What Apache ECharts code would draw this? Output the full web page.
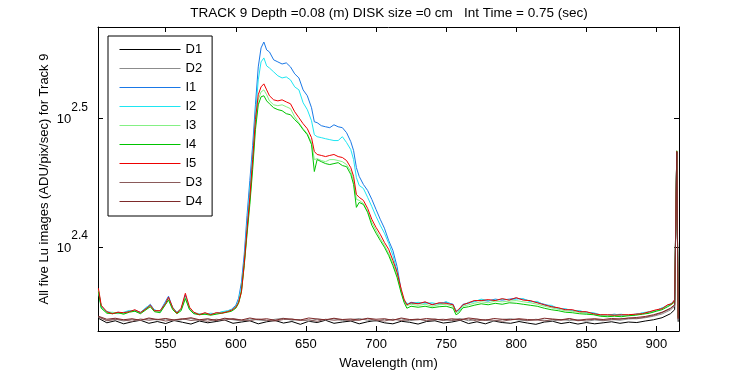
<!DOCTYPE html>
<html>
<head>
<meta charset="utf-8">
<title>TRACK 9 Lu spectra</title>
<script src="https://cdn.jsdelivr.net/npm/echarts@6.0.0/dist/echarts.min.js"></script>
<style>
  html, body { margin: 0; padding: 0; background: #fff; }
  #chart { width: 750px; height: 375px; }
</style>
</head>
<body>
<div id="chart"></div>
<script>
  // wavelength grid for the five light images (nm)
  const nm = [
    502, 504, 508, 512, 516, 520, 524, 528, 532, 536,
    539, 542, 546, 550, 552, 555, 558, 561, 564, 567,
    570, 574, 578, 582, 586, 590, 594, 597, 600, 602,
    604, 606, 608, 610, 612, 614, 616, 618, 620, 622,
    624, 627, 630, 633, 636, 639, 642, 645, 648, 651,
    654, 656, 658, 661, 664, 667, 670, 673, 676, 679,
    682, 684, 686, 688, 691, 694, 697, 700, 703, 706,
    709, 712, 715, 718, 720, 722, 725, 730, 735, 740,
    745, 750, 755, 757, 759, 762, 766, 770, 775, 780,
    785, 790, 795, 800, 805, 810, 815, 820, 825, 830,
    835, 840, 845, 850, 855, 860, 865, 870, 875, 880,
    885, 890, 895, 900, 904, 908, 911, 913, 914.5, 915.5
  ];

  const i1 = [
    232.2, 226.0, 223.6, 223.2, 223.6, 223.2, 224.0, 224.4, 223.6, 225.2,
    226.8, 224.4, 224.0, 228.1, 230.1, 225.2, 223.6, 224.8, 230.5, 224.8,
    223.2, 222.8, 223.2, 222.8, 223.2, 223.6, 224.0, 224.8, 226.4, 229.3,
    235.9, 248.0, 265.9, 283.1, 301.4, 324.2, 347.0, 359.0, 362.8, 357.7,
    356.4, 351.4, 350.1, 348.8, 349.5, 347.0, 342.7, 340.2, 333.0, 329.5,
    322.5, 314.5, 314.0, 312.3, 311.7, 311.2, 312.8, 311.7, 311.2, 308.4,
    303.5, 298.7, 289.7, 285.2, 281.1, 278.1, 273.7, 268.8, 264.1, 259.9,
    254.3, 249.8, 242.7, 232.2, 228.1, 226.8, 227.6, 227.2, 227.6, 226.8,
    227.2, 227.6, 226.8, 224.0, 224.4, 226.8, 227.2, 228.1, 228.5, 228.1,
    228.9, 228.5, 228.9, 229.3, 228.9, 228.1, 227.6, 226.8, 226.0, 225.2,
    224.8, 224.4, 224.0, 223.6, 223.2, 222.4, 222.4, 222.8, 222.4, 222.4,
    222.8, 223.2, 223.6, 224.4, 225.2, 226.4, 227.2, 228.5, 298.2, 221.6
  ];

  const i2 = [
    232.6, 225.6, 223.9, 223.4, 223.0, 223.6, 224.3, 224.0, 223.2, 225.6,
    226.4, 224.6, 223.6, 227.6, 229.3, 225.6, 223.4, 225.0, 229.7, 225.2,
    223.4, 223.0, 222.8, 223.2, 223.0, 223.8, 224.2, 224.6, 226.0, 228.3,
    234.0, 244.9, 261.7, 278.6, 296.6, 318.5, 339.0, 350.1, 352.6, 347.6,
    346.3, 343.9, 341.5, 340.2, 340.8, 339.0, 334.8, 333.0, 325.4, 321.4,
    315.1, 307.3, 306.2, 305.7, 305.1, 304.6, 304.1, 304.1, 306.2, 303.0,
    299.2, 293.9, 284.6, 280.6, 279.1, 274.7, 270.2, 265.5, 261.3, 257.6,
    253.0, 247.6, 240.6, 231.8, 228.5, 227.2, 227.0, 227.6, 227.2, 227.4,
    226.8, 227.9, 226.4, 224.4, 224.0, 226.4, 227.6, 227.8, 228.9, 228.3,
    228.5, 228.9, 228.7, 228.9, 229.1, 227.8, 228.0, 226.4, 226.4, 225.0,
    225.0, 224.2, 224.3, 223.4, 223.4, 222.6, 222.2, 222.6, 222.8, 222.2,
    222.6, 223.4, 223.8, 224.2, 225.4, 226.0, 227.4, 228.3, 298.0, 221.8
  ];

  const i3 = [
    232.8, 225.8, 223.4, 223.6, 223.2, 223.0, 223.8, 224.2, 223.4, 224.8,
    226.0, 224.0, 223.8, 227.0, 228.9, 225.0, 223.4, 224.6, 229.7, 225.0,
    223.4, 222.8, 223.0, 222.6, 223.0, 223.4, 223.8, 224.4, 225.6, 227.8,
    232.6, 243.6, 258.0, 272.7, 290.8, 312.3, 327.1, 331.8, 333.0, 330.1,
    326.5, 324.2, 323.7, 324.2, 323.1, 322.0, 317.3, 313.9, 310.6, 307.9,
    303.0, 293.9, 294.4, 293.4, 292.8, 293.9, 293.9, 293.4, 292.8, 291.3,
    287.7, 283.1, 273.7, 273.2, 271.7, 267.8, 262.7, 258.9, 255.3, 252.1,
    248.5, 244.0, 238.9, 232.2, 228.1, 226.2, 226.8, 226.4, 226.8, 226.0,
    226.6, 226.8, 226.0, 223.4, 223.8, 226.0, 226.6, 227.2, 227.8, 227.4,
    228.1, 227.8, 228.1, 228.3, 227.8, 227.4, 226.8, 226.0, 225.4, 224.8,
    224.2, 224.0, 223.6, 223.2, 222.8, 222.2, 222.2, 222.4, 222.0, 222.4,
    222.6, 223.0, 223.4, 224.2, 225.0, 226.2, 227.0, 228.1, 298.0, 221.6
  ];

  const i4 = [
    232.0, 225.2, 223.2, 223.0, 223.4, 222.8, 223.6, 224.0, 223.0, 224.6,
    225.8, 223.8, 223.4, 226.8, 228.5, 224.6, 223.0, 224.2, 229.1, 224.6,
    223.0, 222.6, 222.8, 222.4, 222.8, 223.2, 223.6, 224.0, 225.2, 227.2,
    231.8, 243.1, 257.1, 271.2, 288.7, 310.1, 324.2, 328.9, 329.5, 326.5,
    324.8, 322.5, 321.4, 320.8, 319.1, 318.5, 315.7, 313.4, 310.1, 307.3,
    301.9, 287.7, 293.9, 292.8, 291.8, 291.3, 291.8, 292.3, 290.8, 290.2,
    286.2, 281.1, 269.8, 272.2, 271.2, 267.4, 261.3, 257.6, 254.3, 251.2,
    247.6, 243.1, 238.0, 231.3, 227.6, 225.2, 226.0, 225.6, 226.0, 225.4,
    225.8, 226.0, 225.2, 222.6, 223.2, 225.4, 225.8, 226.4, 227.0, 226.6,
    227.2, 226.8, 227.4, 227.2, 226.8, 226.4, 226.0, 225.2, 224.6, 224.2,
    223.6, 223.4, 223.0, 222.8, 222.6, 222.0, 221.8, 222.0, 221.8, 222.2,
    222.4, 222.8, 223.2, 224.0, 224.6, 225.8, 226.8, 227.8, 298.6, 221.6
  ];

  const i5 = [
    233.4, 226.4, 223.8, 223.0, 223.6, 223.4, 223.8, 224.6, 223.4, 225.0,
    226.4, 224.2, 224.2, 227.2, 229.7, 225.4, 223.2, 225.2, 231.3, 225.6,
    223.6, 222.6, 223.4, 222.6, 223.4, 223.2, 223.8, 224.4, 225.6, 227.6,
    232.0, 244.0, 259.4, 274.7, 293.9, 315.7, 330.1, 334.8, 336.6, 333.0,
    329.5, 327.1, 326.5, 327.1, 325.9, 324.8, 320.2, 316.8, 313.4, 310.6,
    305.7, 298.2, 296.6, 296.1, 295.5, 296.1, 296.6, 295.5, 295.0, 293.4,
    289.7, 285.2, 276.1, 274.7, 273.2, 269.3, 264.1, 260.3, 257.1, 253.4,
    250.3, 245.4, 240.2, 233.0, 228.9, 226.6, 227.4, 227.0, 227.8, 226.6,
    227.4, 227.2, 226.6, 223.8, 224.8, 226.6, 227.4, 228.3, 228.3, 228.7,
    228.3, 229.1, 228.5, 229.5, 228.5, 228.3, 227.4, 226.6, 225.8, 225.4,
    224.6, 224.6, 223.8, 223.8, 223.0, 222.6, 222.6, 222.4, 222.6, 222.6,
    222.8, 223.0, 223.8, 224.6, 225.0, 226.6, 227.0, 228.7, 298.2, 221.4
  ];

  // wavelength grid for the dark frames (nm)
  const darkNm = [
    502, 508, 514, 520, 526, 532, 538, 544, 550, 556,
    562, 568, 574, 580, 586, 592, 598, 604, 610, 616,
    622, 628, 634, 640, 646, 652, 658, 664, 670, 676,
    682, 688, 694, 700, 706, 712, 718, 724, 730, 736,
    742, 748, 754, 760, 766, 772, 778, 784, 790, 796,
    802, 808, 814, 820, 826, 832, 838, 844, 850, 856,
    862, 868, 874, 880, 886, 892, 898, 904, 910, 913,
    914.5, 915.5
  ];

  const d1 = [
    221.2, 219.4, 220.2, 219.0, 219.8, 220.4, 219.2, 219.9, 219.1, 220.3,
    219.6, 218.9, 220.1, 219.4, 219.9, 220.5, 219.2, 219.7, 220.2, 219.0,
    219.8, 220.3, 219.3, 219.9, 218.8, 220.0, 219.5, 220.4, 219.2, 219.7,
    220.1, 219.0, 219.8, 220.3, 219.4, 219.0, 220.0, 219.6, 218.9, 219.9,
    220.2, 219.3, 219.7, 220.4, 219.1, 219.8, 219.0, 220.1, 219.5, 219.2,
    219.9, 219.3, 218.8, 219.7, 220.0, 219.1, 219.6, 218.9, 219.5, 219.0,
    219.4, 219.8, 219.2, 219.7, 219.5, 220.1, 220.6, 221.4, 223.0, 224.6,
    298.0, 219.8
  ];

  const d2 = [
    221.6, 220.4, 220.9, 220.1, 220.8, 220.3, 221.0, 220.5, 220.9, 220.2,
    220.7, 221.1, 220.3, 220.8, 220.4, 221.0, 220.6, 220.1, 220.9, 220.5,
    220.2, 220.8, 221.2, 220.4, 220.7, 220.0, 220.9, 220.5, 221.0, 220.3,
    220.6, 221.1, 220.4, 220.0, 220.8, 220.5, 221.0, 220.2, 220.7, 220.4,
    220.9, 220.3, 220.6, 221.1, 220.2, 220.8, 220.4, 220.0, 220.7, 221.0,
    220.5, 220.2, 220.8, 220.4, 220.1, 220.7, 220.3, 220.6, 220.0, 220.5,
    220.2, 220.7, 220.4, 220.9, 221.1, 221.4, 222.0, 222.9, 224.5, 226.0,
    298.0, 220.6
  ];

  const d3 = [
    221.8, 220.2, 220.7, 220.5, 220.0, 220.9, 220.4, 220.8, 220.1, 220.6,
    221.0, 220.3, 220.6, 220.0, 220.8, 220.4, 221.1, 220.5, 220.2, 220.9,
    220.4, 220.1, 220.7, 220.9, 220.3, 220.6, 220.0, 220.8, 220.4, 220.7,
    220.2, 220.5, 221.0, 220.4, 220.1, 220.8, 220.3, 220.6, 220.9, 220.2,
    220.6, 220.8, 220.3, 220.5, 220.9, 220.1, 220.7, 220.4, 220.0, 220.6,
    220.8, 220.3, 220.6, 220.1, 220.7, 220.4, 220.9, 220.2, 220.5, 220.8,
    220.4, 220.6, 220.9, 221.2, 221.0, 221.6, 222.3, 223.4, 225.0, 226.4,
    298.0, 220.8
  ];

  const d4 = [
    222.0, 220.8, 221.2, 220.6, 221.0, 220.4, 221.3, 220.7, 221.1, 220.5,
    220.9, 221.4, 220.6, 221.0, 220.3, 221.2, 220.8, 220.5, 221.3, 220.7,
    221.0, 220.4, 221.1, 220.8, 220.5, 221.3, 220.9, 220.6, 221.2, 220.7,
    220.9, 220.5, 221.2, 220.8, 221.0, 220.4, 221.3, 220.7, 220.6, 221.1,
    220.8, 220.5, 221.0, 220.6, 221.3, 220.9, 220.4, 221.1, 220.8, 220.6,
    221.0, 220.7, 220.5, 221.2, 220.9, 220.6, 221.1, 220.4, 220.8, 221.0,
    220.7, 221.1, 220.9, 221.3, 221.5, 221.9, 222.6, 223.6, 225.2, 226.6,
    298.0, 221.0
  ];

  const xTicks = [550, 600, 650, 700, 750, 800, 850, 900];
  const yTicks = [251.19, 316.23];
  const yTickExp = ['2.4', '2.5'];

  const FONT = '"Liberation Sans", Arial, Helvetica, sans-serif';

  function pairs(xs, ys) {
    return xs.map((x, i) => [x, ys[i]]);
  }

  // draw order matches the legend
  const lines = [
    { name: 'D1', color: '#000000', x: darkNm, y: d1 },
    { name: 'D2', color: '#8c8c8c', x: darkNm, y: d2 },
    { name: 'I1', color: '#1a78e6', x: nm, y: i1 },
    { name: 'I2', color: '#1ee6f2', x: nm, y: i2 },
    { name: 'I3', color: '#84f084', x: nm, y: i3 },
    { name: 'I4', color: '#00c400', x: nm, y: i4 },
    { name: 'I5', color: '#ee0000', x: nm, y: i5 },
    { name: 'D3', color: '#8a5a5a', x: darkNm, y: d3 },
    { name: 'D4', color: '#7e2a2a', x: darkNm, y: d4 },
  ];

  const xMin = 501.7, xMax = 916.1;
  const yMin = 216.2, yMax = 372.7;

  const tickStyle = { show: true, inside: true, length: 5, lineStyle: { color: '#000', width: 1 } };
  const lineStyle = { show: true, lineStyle: { color: '#000', width: 1 } };

  const option = {
    animation: false,
    backgroundColor: '#fff',
    textStyle: { fontFamily: FONT },
    grid: { left: 98, right: 71, top: 27, bottom: 43, containLabel: false },
    graphic: [
      {
        type: 'text',
        x: 389,
        y: 13,
        style: {
          text: 'TRACK 9 Depth =0.08 (m) DISK size =0 cm   Int Time = 0.75 (sec)',
          font: '13.5px ' + FONT,
          fill: '#000',
          textAlign: 'center',
          textVerticalAlign: 'middle',
        },
      },
    ],
    legend: {
      orient: 'vertical',
      left: 108,
      top: 36,
      itemWidth: 61,
      itemHeight: 13,
      itemGap: 4,
      padding: [6, 10, 7, 11],
      borderColor: '#000',
      borderWidth: 1,
      borderRadius: 0,
      backgroundColor: '#fff',
      selectedMode: false,
      itemStyle: { opacity: 0 },
      lineStyle: { width: 1 },
      textStyle: { color: '#000', fontSize: 13, lineHeight: 15, fontFamily: FONT },
      data: lines.map((l) => l.name),
    },
    xAxis: [
      {
        type: 'value',
        min: xMin,
        max: xMax,
        position: 'bottom',
        axisLine: lineStyle,
        axisTick: Object.assign({ customValues: xTicks }, tickStyle),
        axisLabel: { customValues: xTicks, color: '#000', fontSize: 13, margin: 7 },
        splitLine: { show: false },
        name: 'Wavelength (nm)',
        nameLocation: 'middle',
        nameGap: 26,
        nameMoveOverlap: false,
        nameTextStyle: { color: '#000', fontSize: 13 },
      },
      {
        type: 'value',
        min: xMin,
        max: xMax,
        position: 'top',
        axisLine: lineStyle,
        axisTick: Object.assign({ customValues: xTicks }, tickStyle),
        axisLabel: { show: false },
        splitLine: { show: false },
      },
    ],
    yAxis: [
      {
        type: 'log',
        logBase: 10,
        min: yMin,
        max: yMax,
        position: 'left',
        axisLine: lineStyle,
        axisTick: Object.assign({ customValues: yTicks }, tickStyle),
        axisLabel: {
          customValues: yTicks,
          margin: 10,
          color: '#000',
          formatter(value) {
            const k = yTicks.findIndex((v) => Math.abs(v - value) < 1);
            return '{b|10}{s|' + yTickExp[k < 0 ? 0 : k] + '}';
          },
          rich: {
            b: { fontSize: 13, color: '#000', padding: [12, 0, 10, 0], fontFamily: FONT },
            s: { fontSize: 12, color: '#000', verticalAlign: 'top', fontFamily: FONT },
          },
        },
        splitLine: { show: false },
        name: 'All five Lu images (ADU/pix/sec) for Track 9',
        nameLocation: 'middle',
        nameGap: 47,
        nameMoveOverlap: false,
        nameTextStyle: { color: '#000', fontSize: 13 },
      },
      {
        type: 'log',
        logBase: 10,
        min: yMin,
        max: yMax,
        position: 'right',
        axisLine: lineStyle,
        axisTick: Object.assign({ customValues: yTicks }, tickStyle),
        axisLabel: { show: false },
        splitLine: { show: false },
      },
    ],
    series: lines.map((l) => ({
      name: l.name,
      type: 'line',
      xAxisIndex: 0,
      yAxisIndex: 0,
      data: pairs(l.x, l.y),
      symbol: 'none',
      showSymbol: false,
      silent: true,
      clip: true,
      color: l.color,
      lineStyle: { color: l.color, width: 1 },
    })),
  };

  const myChart = echarts.init(document.getElementById('chart'), null, { renderer: 'canvas' });
  myChart.setOption(option);
  window.addEventListener('resize', () => {
    myChart.resize();
  });
</script>
</body>
</html>
